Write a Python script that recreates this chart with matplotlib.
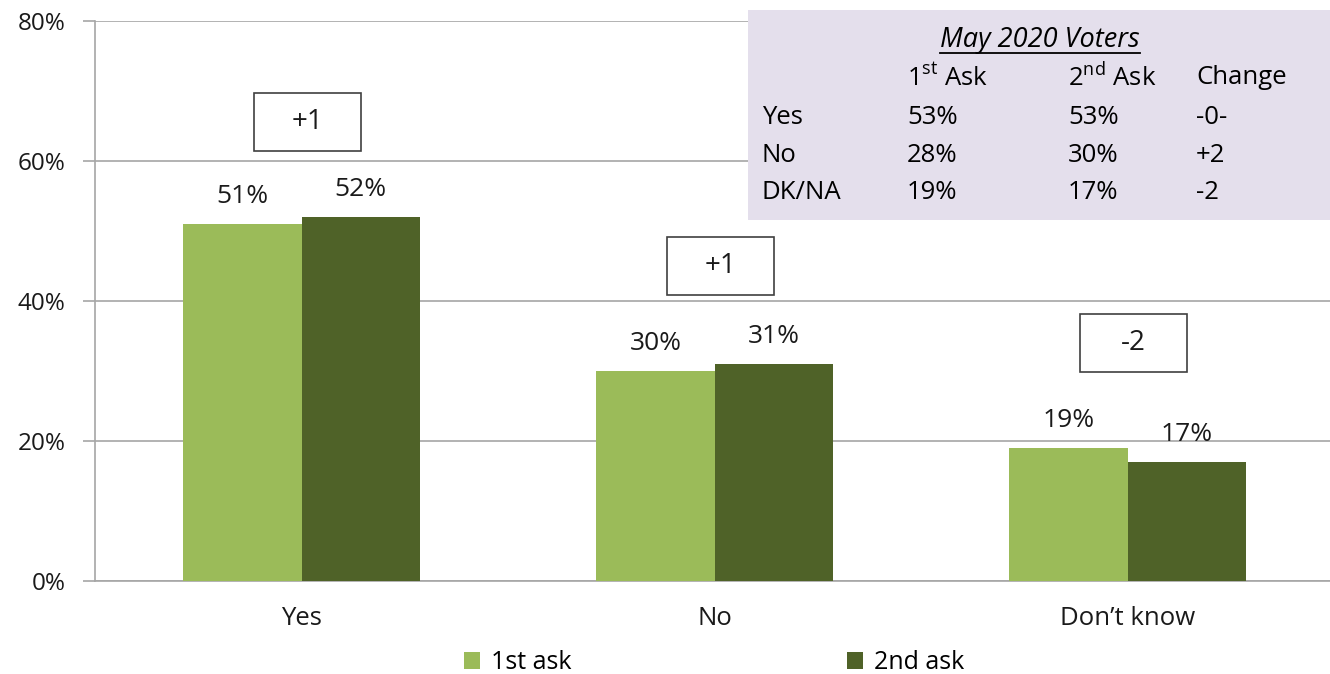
import numpy as np
import matplotlib
matplotlib.use("Agg")
from matplotlib import pyplot as plt
from matplotlib.patches import Rectangle
from matplotlib.lines import Line2D

plt.rcParams['font.family'] = ['Open Sans', 'DejaVu Sans']
plt.rcParams['mathtext.fontset'] = 'custom'
plt.rcParams['mathtext.rm'] = 'Open Sans'

# datos
categorias = ["Yes", "No", "Don\u2019t know"]
primera = [51, 30, 19]
segunda = [52, 31, 17]
cambios = ["+1", "+1", "-2"]
cambio_y = [65.6, 45.0, 34.0]
series = ["1st ask", "2nd ask"]

tabla_titulo = "May 2020 Voters"
tabla_cols = ["1$^{\\mathrm{st}}$ Ask", "2$^{\\mathrm{nd}}$ Ask", "Change"]
tabla_filas = ["Yes", "No", "DK/NA"]
tabla_1 = ["53%", "28%", "19%"]
tabla_2 = ["53%", "30%", "17%"]
tabla_cambio = ["-0-", "+2", "-2"]

verde_claro = "#9BBB59"
verde_osc = "#4F6228"
gris = "#A6A6A6"
negro = "#1a1a1a"

fig = plt.figure(figsize=(13.3, 6.74), dpi=100)
ax = fig.add_axes([95 / 1330, 1 - 581 / 674, 1 - 95 / 1330, (581 - 21) / 674])

x = np.arange(len(categorias))
w = 0.286
b1 = ax.bar(x - w / 2, primera, w, color=verde_claro, label=series[0], zorder=3)
b2 = ax.bar(x + w / 2, segunda, w, color=verde_osc, label=series[1], zorder=3)

for barras in (b1, b2):
    for b in barras:
        ax.annotate(f"{b.get_height():.0f}%", (b.get_x() + b.get_width() / 2, b.get_height()),
                    xytext=(0, 20), textcoords="offset points", ha="center", va="center",
                    fontsize=19, color=negro)

# cajas de cambio
bw, bh = 0.259, 8.3
for i, (c, cy) in enumerate(zip(cambios, cambio_y)):
    cx = x[i] + 0.015
    ax.add_patch(Rectangle((cx - bw / 2, cy - bh / 2), bw, bh, facecolor="white",
                           edgecolor="#404040", lw=1.2, zorder=4))
    ax.text(cx, cy, c, ha="center", va="center", fontsize=20, zorder=5, color=negro)

ax.set_xlim(-0.5, 2.49)
ax.set_ylim(0, 80)
ax.set_yticks([0, 20, 40, 60, 80])
ax.set_yticklabels([f"{v}%" for v in [0, 20, 40, 60, 80]], fontsize=17.5, color=negro)
ax.set_xticks(x)
ax.set_xticklabels(categorias, fontsize=18.5, color=negro)
ax.tick_params(axis="x", length=0, pad=18)
ax.tick_params(axis="y", length=9, color=gris, width=1.2, pad=12)
ax.yaxis.grid(True, color=gris, lw=1.2, zorder=0)
for s in ["top", "right"]:
    ax.spines[s].set_visible(False)
ax.spines["left"].set_color(gris)
ax.spines["left"].set_linewidth(1.2)
ax.spines["bottom"].set_color(gris)
ax.spines["bottom"].set_linewidth(1.2)

leg = fig.legend(loc="center", bbox_to_anchor=(0.537, 0.017), ncol=2, frameon=False,
                 fontsize=18, handlelength=0.65, handleheight=0.65, handletextpad=0.45,
                 columnspacing=11.0)

# tabla
def fx(px):
    return px / 1330

def fy(py):
    return 1 - py / 674

fig.add_artist(Rectangle((fx(748), fy(220)), fx(1330 - 748), (220 - 10) / 674,
                         transform=fig.transFigure, facecolor="#E4DFEC", edgecolor="none", zorder=5))
fs = 18.5
t = fig.text(fx(1040), fy(40), tabla_titulo, ha="center", va="center", fontsize=19.5,
             style="italic", zorder=6)
fig.canvas.draw()
bb = t.get_window_extent().transformed(fig.transFigure.inverted())
fig.add_artist(Line2D([bb.x0, bb.x1], [fy(53), fy(53)], transform=fig.transFigure,
                      color="black", lw=1.3, zorder=6))
col_x = [907, 1068, 1196]
for cx, txt in zip(col_x, tabla_cols):
    fig.text(fx(cx), fy(78), txt, ha="left", va="center", fontsize=fs, zorder=6)
filas_y = [117, 155, 192]
for i, fila in enumerate(tabla_filas):
    fyy = fy(filas_y[i])
    fig.text(fx(762), fyy, fila, ha="left", va="center", fontsize=fs, zorder=6)
    fig.text(fx(col_x[0]), fyy, tabla_1[i], ha="left", va="center", fontsize=fs, zorder=6)
    fig.text(fx(col_x[1]), fyy, tabla_2[i], ha="left", va="center", fontsize=fs, zorder=6)
    fig.text(fx(col_x[2]), fyy, tabla_cambio[i], ha="left", va="center", fontsize=fs, zorder=6)

fig.savefig("out.png", dpi=100)
